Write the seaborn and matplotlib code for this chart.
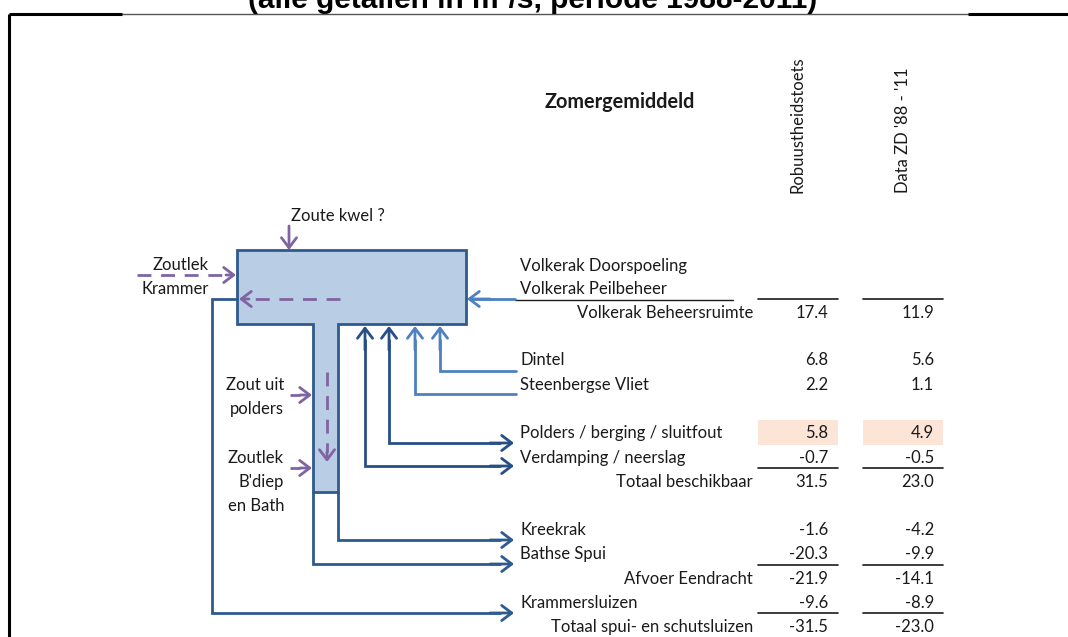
import matplotlib
matplotlib.use("Agg")
import matplotlib.pyplot as plt
from matplotlib.patches import Polygon, Rectangle
import seaborn as sns

# ---------------- data ----------------
title = "(alle getallen in m³/s, periode 1988-2011)"
header = "Zomergemiddeld"
col_headers = ["Robuustheidstoets", "Data ZD '88 - '11"]

text_rows = ["Volkerak Doorspoeling", "Volkerak Peilbeheer"]
row_labels = ["Volkerak Beheersruimte", "Dintel", "Steenbergse Vliet",
              "Polders / berging / sluitfout", "Verdamping / neerslag",
              "Totaal beschikbaar", "Kreekrak", "Bathse Spui",
              "Afvoer Eendracht", "Krammersluizen", "Totaal spui- en schutsluizen"]
robuust = [17.4, 6.8, 2.2, 5.8, -0.7, 31.5, -1.6, -20.3, -21.9, -9.6, -31.5]
data_zd = [11.9, 5.6, 1.1, 4.9, -0.5, 23.0, -4.2, -9.9, -14.1, -8.9, -23.0]
is_total = [True, False, False, False, False, True, False, False, True, False, True]
highlight = [False, False, False, True, False, False, False, False, False, False, False]

left_labels = [("Zoute kwel ?",), ("Zoutlek", "Krammer"), ("Zout uit", "polders"),
               ("Zoutlek", "B'diep", "en Bath")]

# ---------------- style ----------------
sns.set_theme(style="white")
plt.rcParams['font.family'] = ['Lato', 'DejaVu Sans']

DARK = "#264f86"
LIGHT = "#4f81c0"
EDGE = "#2f5a8e"
FILL = "#b9cde5"
PURPLE = "#8064a2"
PEACH = "#fce4d6"
TXT = "#1a1a1a"
FS = 12

fig = plt.figure(figsize=(10.68, 6.37), dpi=100)
ax = fig.add_axes([0, 0, 1, 1])
ax.set_xlim(0, 1068)
ax.set_ylim(637, 0)
ax.axis("off")

# frame + title
ax.plot([122, 968], [14, 14], color="#555555", lw=1.0)
ax.plot([9, 122], [14, 14], color="black", lw=2.2, solid_capstyle="butt")
ax.plot([968, 1068], [14, 14], color="black", lw=2.2, solid_capstyle="butt")
ax.plot([9, 9], [14, 637], color="black", lw=2.2, solid_capstyle="butt")
ax.text(533, 8, title, ha="center", va="baseline", fontsize=21.5,
        fontweight="bold", family=["Liberation Sans", "DejaVu Sans"], color="black")

# header
ax.text(545, 102, header, ha="left", va="center", fontsize=14.3, fontweight="bold", color=TXT)
col_right = [828, 934]
col_span = [(758, 838), (863, 943)]
col_center = [798, 903]
for cx, h in zip(col_center, col_headers):
    ax.text(cx, 193, h, rotation=90, ha="center", va="bottom", fontsize=12, color=TXT)

# table rows
text_y = [266, 289]
row_y = [313, 360, 385, 433, 458, 482, 530, 554, 579, 603, 627]
for y, t in zip(text_y, text_rows):
    ax.text(520, y, t, ha="left", va="center", fontsize=FS, color=TXT)
ax.plot([515, 733], [300, 300], color=TXT, lw=1.0)

for i, (lab, y) in enumerate(zip(row_labels, row_y)):
    if is_total[i]:
        ax.text(753, y, lab, ha="right", va="center", fontsize=FS, color=TXT)
        for (x0, x1) in col_span:
            ax.plot([x0, x1], [y - 14, y - 14], color=TXT, lw=1.2)
    else:
        ax.text(520, y, lab, ha="left", va="center", fontsize=FS, color=TXT)
    if highlight[i]:
        for (x0, x1) in col_span:
            ax.add_patch(Rectangle((x0, y - 13), x1 - x0, 25, facecolor=PEACH,
                                   edgecolor="none", zorder=0))
    for xr, v in zip(col_right, [robuust[i], data_zd[i]]):
        ax.text(xr, y, f"{v:.1f}", ha="right", va="center", fontsize=FS, color=TXT)

# T-shaped basin
T = [(237, 250), (466, 250), (466, 324), (338, 324), (338, 492), (313, 492),
     (313, 324), (237, 324)]
ax.add_patch(Polygon(T, closed=True, facecolor=FILL, edgecolor=EDGE, lw=2.0, zorder=2))


def arrow(head, tail, color, lw=2.0, style="->,head_length=0.45,head_width=0.34"):
    ax.annotate("", xy=head, xytext=tail,
                arrowprops=dict(arrowstyle=style, color=color, lw=lw,
                                shrinkA=0, shrinkB=0, mutation_scale=16),
                zorder=4)


def path(pts, color, lw=2.0):
    xs, ys = zip(*pts)
    ax.plot(xs, ys, color=color, lw=lw, solid_joinstyle="miter", zorder=3)


# Volkerak inflow (light)
path([(515, 299), (470, 299)], LIGHT)
arrow((467, 299), (490, 299), LIGHT)
# Dintel, Steenbergse Vliet (light)
for x, y in [(440, 371), (415, 394)]:
    path([(516, y), (x, y), (x, 340)], LIGHT)
    arrow((x, 326), (x, 350), LIGHT)
# Polders, Verdamping (dark, two-way)
for x, y in [(389, 443), (365, 466)]:
    path([(x, 340), (x, y), (500, y)], DARK)
    arrow((x, 326), (x, 350), DARK)
    arrow((514, y), (490, y), DARK)
# Kreekrak, Bathse Spui, Krammersluizen outflows
path([(338, 492), (338, 540), (500, 540)], EDGE)
arrow((514, 540), (490, 540), EDGE)
path([(313, 492), (313, 564), (500, 564)], EDGE)
arrow((514, 564), (490, 564), EDGE)
path([(237, 299), (212, 299), (212, 613), (500, 613)], EDGE)
arrow((514, 613), (490, 613), EDGE)

# salt (purple dashed)
def dashed(head, tail, solid_len=10):
    hx, hy = head
    tx, ty = tail
    d = ((hx - tx) ** 2 + (hy - ty) ** 2) ** 0.5
    ux, uy = (hx - tx) / d, (hy - ty) / d
    mx, my = hx - ux * solid_len, hy - uy * solid_len
    ax.plot([tx, mx], [ty, my], color=PURPLE, lw=2.0, dashes=(5, 3.5), zorder=5)
    arrow(head, (mx, my), PURPLE)


arrow((289, 250), (289, 226), PURPLE)
dashed((236, 275), (137, 275))
dashed((239, 299), (340, 299))
dashed((312, 395), (290, 395), solid_len=12)
dashed((312, 468), (290, 468), solid_len=12)
dashed((327, 462), (327, 372))

# left labels
ax.text(338, 216, left_labels[0][0], ha="center", va="center", fontsize=FS, color=TXT)
for t, y in zip(left_labels[1], [265, 289]):
    ax.text(209, y, t, ha="right", va="center", fontsize=FS, color=TXT)
for t, y in zip(left_labels[2], [385, 409]):
    ax.text(284, y, t, ha="right", va="center", fontsize=FS, color=TXT)
for t, y in zip(left_labels[3], [458, 482, 506]):
    ax.text(284, y, t, ha="right", va="center", fontsize=FS, color=TXT)

fig.savefig("out.png", dpi=100)
